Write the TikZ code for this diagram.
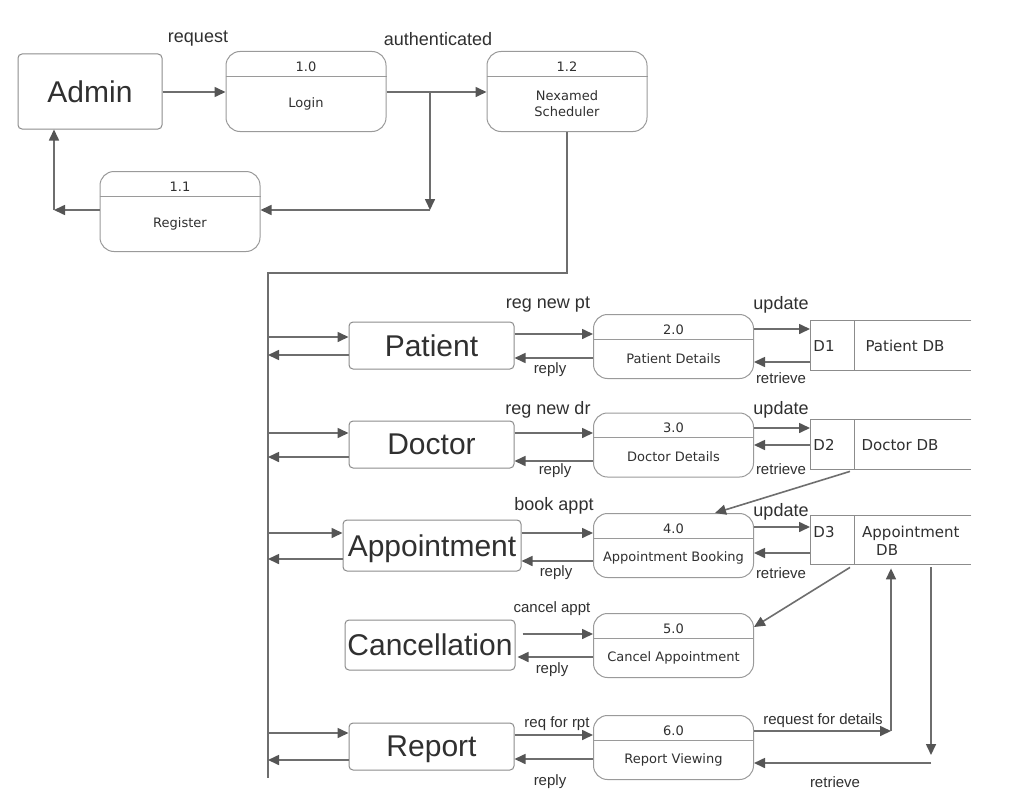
\documentclass[tikz,border=0pt]{standalone}
\usepackage{fontspec}
\setmainfont{Liberation Sans}
\newfontfamily\verd{DejaVu Sans}
\usetikzlibrary{arrows.meta,calc}
\definecolor{linec}{HTML}{6E6E6E}
\definecolor{tipc}{HTML}{555555}
\definecolor{boxc}{HTML}{8C8C8C}
\definecolor{procc}{HTML}{9A9A9A}
\definecolor{txtc}{HTML}{303030}
\newcommand\procnode[6]{%
  \node[procbox, minimum height=#4pt, anchor=north] (#1) at (#2,#3) {};
  \draw[divc] ([yshift=-25pt]#1.north west) -- ([yshift=-25pt]#1.north east);
  \node[ptext] at ([yshift=-15.5pt]#1.north) {#5};
  \node[ptext, align=center] at ($(#1.north)+(0,{(#4+25)/2})$) {#6};
}
\newcommand\storenode[3]{%
  \node[minimum width=161pt, minimum height=#3pt, inner sep=0pt, anchor=north west] (#1) at (810,#2) {};
  \draw[storec] (#1.north east) -- (#1.north west) -- (#1.south west) -- (#1.south east);
  \draw[storec] ([xshift=44pt]#1.north west) -- ([xshift=44pt]#1.south west);
}
\begin{document}
\begin{tikzpicture}[x=1pt,y=-1pt,
  lc/.style={draw=linec, line width=1.6pt},
  arr/.style={lc, -{Triangle[length=11pt,width=10pt,color=tipc]}},
  ent/.style={draw=boxc, line width=1pt, rounded corners=4pt, text=txtc, inner sep=0pt,
    text depth=0pt, font=\fontsize{30}{32}\selectfont},
  procbox/.style={draw=procc, line width=1pt, rounded corners=14pt, minimum width=160pt, inner sep=0pt},
  divc/.style={draw=procc, line width=1pt},
  storec/.style={draw=boxc, line width=1pt},
  ptext/.style={text=txtc, font=\verd\fontsize{13}{16}\selectfont, inner sep=0pt},
  stext/.style={text=txtc, font=\verd\fontsize{15}{18}\selectfont, inner sep=0pt},
  lbig/.style={text=txtc, font=\fontsize{18}{20}\selectfont, inner sep=0pt, yshift=-2pt},
  lsm/.style={text=txtc, font=\fontsize{15}{17}\selectfont, inner sep=0pt, yshift=-2pt}
]
\useasboundingbox[fill=white] (0,0) rectangle (1027,792);

% entities
\node[ent, minimum width=144pt, minimum height=75pt] (admin) at (90,91.5) {Admin};
\node[ent, minimum width=165pt, minimum height=47pt] (patient) at (431.5,345.5) {Patient};
\node[ent, minimum width=165pt, minimum height=47pt] (doctor) at (431.5,444.5) {Doctor};
\node[ent, minimum width=178pt, minimum height=51pt] (appt) at (432,545.5) {Appointment};
\node[ent, minimum width=170pt, minimum height=50pt] (cancel) at (430,645) {Cancellation};
\node[ent, minimum width=165pt, minimum height=47pt] (report) at (431.5,746.5) {Report};

% processes
\procnode{p10}{306}{51}{80}{1.0}{Login}
\procnode{p12}{567}{51}{80}{1.2}{Nexamed\\Scheduler}
\procnode{p11}{180}{171}{80}{1.1}{Register}
\procnode{p20}{673.5}{314}{64}{2.0}{Patient Details}
\procnode{p30}{673.5}{412.5}{64}{3.0}{Doctor Details}
\procnode{p40}{673.5}{513}{64}{4.0}{Appointment Booking}
\procnode{p50}{673.5}{613}{64}{5.0}{Cancel Appointment}
\procnode{p60}{673.5}{715}{64}{6.0}{Report Viewing}

% data stores
\storenode{d1}{320}{50}
\storenode{d2}{419}{50}
\storenode{d3}{515}{49}
\node[stext] at (824,346) {D1};
\node[stext] at (905,346) {Patient DB};
\node[stext] at (824,445) {D2};
\node[stext] at (900,445) {Doctor DB};
\node[stext] at (824,532) {D3};
\node[stext, anchor=west] at (862,533) {Appointment};
\node[stext, anchor=west] at (876,550) {DB};

% top section
\coordinate (j1) at (430,92);
\coordinate (j2) at (430,210);
\coordinate (j3) at (54,210);
\draw[arr] (admin.east |- j1) -- (p10.west |- j1);
\draw[arr] (p10.east |- j1) -- (p12.west |- j1);
\draw[arr] (j1) -- (j2);
\draw[arr] (j2) -- (p11.east |- j2);
\draw[arr] (p11.west |- j2) -- (j3);
\draw[arr] (j3) -- (j3 |- admin.south);
\node[lbig] at (198,37) {request};
\node[lbig] at (438,37) {authenticated};

% bus
\coordinate (bt) at (268,273);
\coordinate (bb) at (268,778);
\draw[lc] (p12.south) |- (bt) -- (bb);

% patient row
\draw[arr] (bt |- 0,337) -- (patient.west |- 0,337);
\draw[arr] (patient.west |- 0,355) -- (bt |- 0,355);
\draw[arr] (patient.east |- 0,334) -- (p20.west |- 0,334);
\draw[arr] (p20.west |- 0,358) -- (patient.east |- 0,358);
\draw[arr] (p20.east |- 0,329) -- (d1.west |- 0,329);
\draw[arr] (d1.west |- 0,362) -- (p20.east |- 0,362);
\node[lbig] at (548,303) {reg new pt};
\node[lsm] at (550,368) {reply};
\node[lbig] at (781,303) {update};
\node[lsm] at (781,376) {retrieve};

% doctor row
\draw[arr] (bt |- 0,433) -- (doctor.west |- 0,433);
\draw[arr] (doctor.west |- 0,457) -- (bt |- 0,457);
\draw[arr] (doctor.east |- 0,433) -- (p30.west |- 0,433);
\draw[arr] (p30.west |- 0,461) -- (doctor.east |- 0,461);
\draw[arr] (p30.east |- 0,428) -- (d2.west |- 0,428);
\draw[arr] (d2.west |- 0,445) -- (p30.east |- 0,445);
\node[lbig] at (548,408) {reg new dr};
\node[lsm] at (555,469) {reply};
\node[lbig] at (781,408) {update};
\node[lsm] at (781,467) {retrieve};

% appointment row
\draw[arr] (bt |- 0,533) -- (appt.west |- 0,533);
\draw[arr] (appt.west |- 0,559) -- (bt |- 0,559);
\draw[arr] (appt.east |- 0,533) -- (p40.west |- 0,533);
\draw[arr] (p40.west |- 0,561) -- (appt.east |- 0,561);
\draw[arr] (p40.east |- 0,527) -- (d3.west |- 0,527);
\draw[arr] (d3.west |- 0,553) -- (p40.east |- 0,553);
\node[lbig] at (554,504) {book appt};
\node[lsm] at (556,571) {reply};
\node[lbig] at (781,510) {update};
\node[lsm] at (781,571) {retrieve};
\draw[arr] ([xshift=40pt,yshift=-2pt]d2.south west) -- ([xshift=41.5pt]p40.north);

% cancellation row
\draw[arr] ([xshift=7pt]cancel.east |- 0,634) -- (p50.west |- 0,634);
\draw[arr] (p50.west |- 0,657) -- ([xshift=2pt]cancel.east |- 0,657);
\node[lsm] at (552,607) {cancel appt};
\node[lsm] at (552,668) {reply};
\draw[arr] ([xshift=40pt,yshift=-3pt]d3.south west) -- ([yshift=-14pt]p50.north east);

% report row
\draw[arr] (bt |- 0,733) -- (report.west |- 0,733);
\draw[arr] (report.west |- 0,760) -- (bt |- 0,760);
\draw[arr] (report.east |- 0,735) -- (p60.west |- 0,735);
\draw[arr] (p60.west |- 0,759) -- (report.east |- 0,759);
\node[lsm] at (557,722) {req for rpt};
\node[lsm] at (550,780) {reply};
\coordinate (c1) at (891,731);
\coordinate (c2) at (931,755);
\coordinate (c3) at (931,763);
\draw[arr] (p60.east |- c1) -- (c1);
\draw[arr, shorten >=4pt] (c1) -- (c1 |- d3.south);
\draw[arr] ([yshift=-3pt]c2 |- d3.south) -- (c2);
\draw[arr] (c3) -- (p60.east |- c3);
\node[lsm] at (823,719) {request for details};
\node[lsm] at (835,780) {retrieve};
\end{tikzpicture}
\end{document}
